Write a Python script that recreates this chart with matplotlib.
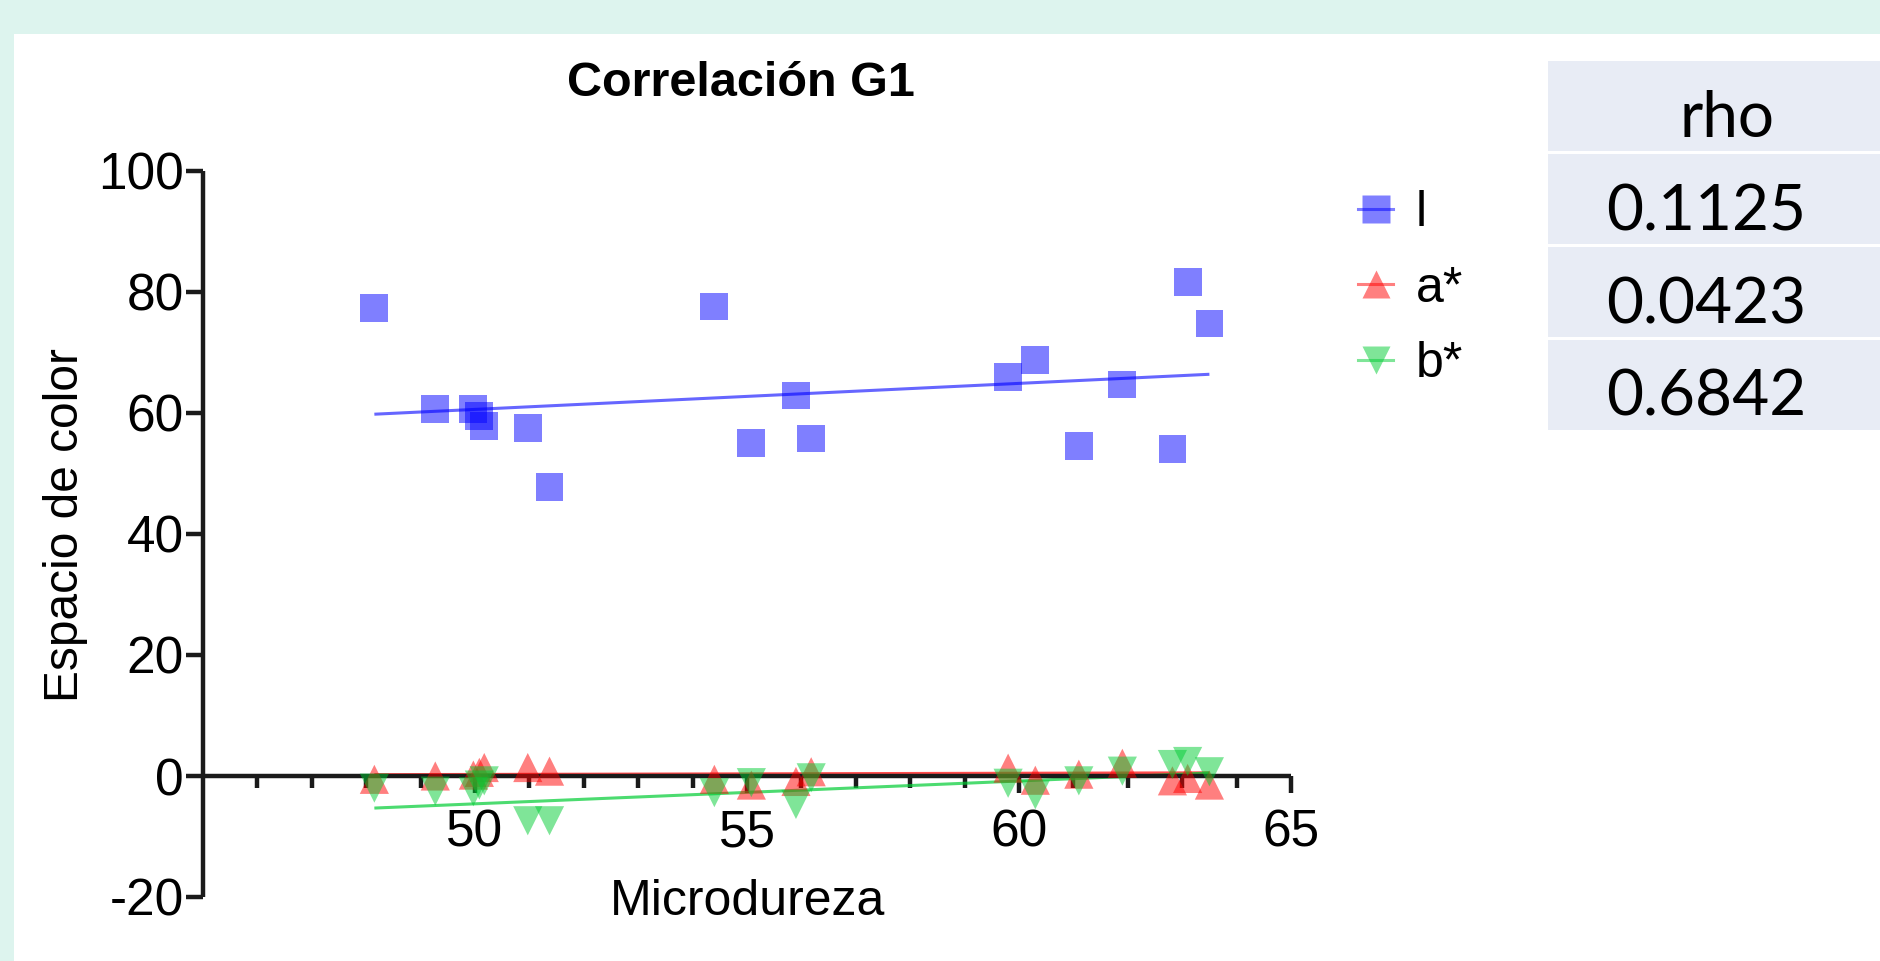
import matplotlib
matplotlib.use('Agg')
import matplotlib.pyplot as plt
from matplotlib.patches import Rectangle
from matplotlib.lines import Line2D

plt.rcParams['font.family'] = ['Liberation Sans', 'DejaVu Sans']

# ---------------- data ----------------
microdureza = [48.15, 49.27, 49.97, 50.08, 50.17, 50.97, 51.37, 54.40, 55.08,
               55.90, 56.18, 59.80, 60.30, 61.10, 61.90, 62.82, 63.10, 63.50]
l_vals = [77.4, 60.7, 60.7, 59.5, 57.9, 57.5, 47.8, 77.6, 55.0,
          62.9, 55.8, 65.9, 68.8, 54.6, 64.7, 54.0, 81.7, 74.8]
a_vals = [-0.55, 0.0, 0.15, 0.6, 1.4, 1.4, 0.8, -0.55, -1.5,
          -0.9, 0.7, 1.3, -0.7, 0.3, 2.1, -0.8, -0.4, -1.5]
b_vals = [-2.0, -2.5, -2.6, -1.5, -0.8, -7.4, -7.4, -2.75, -1.1,
          -4.7, -0.3, -1.2, -3.1, -0.8, 0.8, 1.9, 2.4, 0.7]

# regression lines (start / end)
fit_x = [48.15, 63.50]
l_fit = [59.8, 66.4]
a_fit = [0.2, 0.5]
b_fit = [-5.3, 0.5]

series_labels = ['l', 'a*', 'b*']
x_major = [50, 55, 60, 65]
y_ticks = [-20, 0, 20, 40, 60, 80, 100]

table_header = 'rho'
rho_values = ['0.1125', '0.0423', '0.6842']

title = 'Correlación G1'
xlabel = 'Microdureza'
ylabel = 'Espacio de color'

# ---------------- figure ----------------
W, H = 1880, 961
fig = plt.figure(figsize=(W / 100, H / 100), dpi=100, facecolor='#ddf4ee')

def fx(px):
    return px / W

def fy(py):
    return 1 - py / H

# white slide area
fig.add_artist(Rectangle((fx(14), 0), 1, fy(34), transform=fig.transFigure,
                         facecolor='white', edgecolor='none', zorder=-5))

ax = fig.add_axes([fx(203), fy(897), (1291 - 203) / W, (897 - 171) / H])
ax.set_facecolor('none')

blue = '#0000ff'
red = '#ff0000'
green = '#00cc33'
ms = 20

ax.plot(fit_x, l_fit, color=blue, alpha=0.6, lw=2.2, zorder=2, solid_capstyle='butt')
ax.plot(fit_x, a_fit, color=red, alpha=0.7, lw=2.4, zorder=2, solid_capstyle='butt')
ax.plot(fit_x, b_fit, color=green, alpha=0.7, lw=2.2, zorder=2, solid_capstyle='butt')

ax.scatter(microdureza, l_vals, s=ms ** 2, marker='s', color=blue, alpha=0.5,
           edgecolors='none', zorder=3)
ax.scatter(microdureza, a_vals, s=(ms + 1) ** 2, marker='^', color=red, alpha=0.5,
           edgecolors='none', zorder=3)
ax.scatter(microdureza, b_vals, s=(ms + 1) ** 2, marker='v', color=green, alpha=0.5,
           edgecolors='none', zorder=3)

ax.set_xlim(45, 65)
ax.set_ylim(-20, 100)

for s in ['top', 'right']:
    ax.spines[s].set_visible(False)
ax.spines['bottom'].set_position(('data', 0))
for s in ['left', 'bottom']:
    ax.spines[s].set_linewidth(3.2)
    ax.spines[s].set_color('#1a1a1a')
    ax.spines[s].set_capstyle('butt')

ax.set_xticks(x_major)
ax.set_xticks(range(46, 65), minor=True)
ax.set_xticklabels([str(v) for v in x_major])
ax.set_yticks(y_ticks)
ax.set_yticklabels([str(v) for v in y_ticks])

ax.tick_params(axis='x', which='major', direction='out', length=12.5, width=3.2,
               pad=11, labelsize=37, color='#1a1a1a')
ax.tick_params(axis='x', which='minor', direction='out', length=8.5, width=3.2,
               color='#1a1a1a')
ax.tick_params(axis='y', which='major', direction='out', length=12.5, width=3.2,
               pad=1.5, labelsize=37, color='#1a1a1a')

# texts
fig.text(fx(741), fy(96), title, ha='center', va='baseline', fontsize=35,
         fontweight='bold', color='black')
fig.text(fx(748), fy(915), xlabel, ha='center', va='baseline', fontsize=36,
         color='black')
fig.text(fx(66), fy(525), ylabel, ha='center', va='center', rotation=90,
         fontsize=34.5, color='black')

# legend
handles = [
    Line2D([0], [0], color=blue, alpha=0.5, marker='s', markersize=ms, lw=2.2,
           markeredgecolor='none'),
    Line2D([0], [0], color=red, alpha=0.5, marker='^', markersize=ms, lw=2.2,
           markeredgecolor='none'),
    Line2D([0], [0], color=green, alpha=0.5, marker='v', markersize=ms, lw=2.2,
           markeredgecolor='none'),
]
ax.legend(handles, series_labels, loc='upper left',
          bbox_to_anchor=(fx(1358), fy(190)), bbox_transform=fig.transFigure,
          frameon=False, fontsize=36, handlelength=0.7, handletextpad=0.45,
          labelspacing=0.59, borderpad=0, borderaxespad=0)

# rho table
table_color = '#e8ecf5'
row_top0 = 61
row_pitch = 93
row_h = 90
cells = [table_header] + rho_values
text_x = [1727, 1706, 1706, 1706]
for i, txt in enumerate(cells):
    top = row_top0 + i * row_pitch
    fig.add_artist(Rectangle((fx(1548), fy(top + row_h)), 1, row_h / H,
                             transform=fig.transFigure, facecolor=table_color,
                             edgecolor='none', zorder=-4))
    fig.text(fx(text_x[i]), fy(top + 76), txt, ha='center', va='baseline',
             fontsize=46, family=['Lato', 'DejaVu Sans'], color='black')

fig.savefig('out.png', dpi=100, facecolor=fig.get_facecolor())
